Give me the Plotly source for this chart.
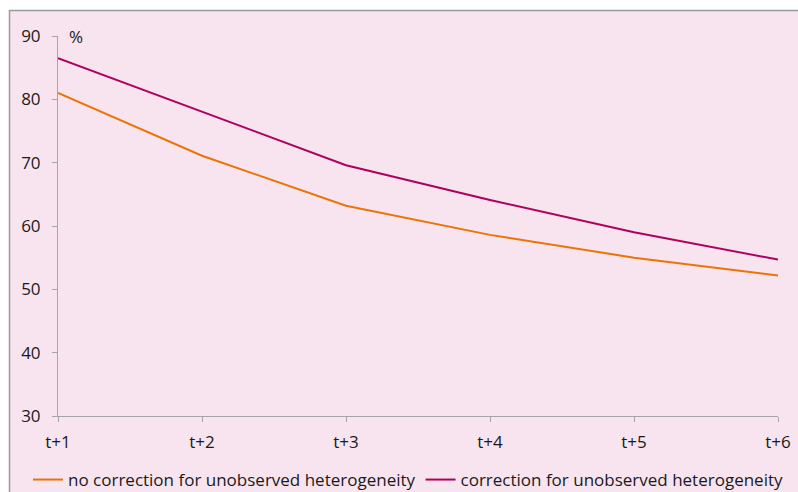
import plotly.graph_objects as go

categories = ["t+1", "t+2", "t+3", "t+4", "t+5", "t+6"]
no_correction = [81.0, 71.1, 63.2, 58.6, 55.0, 52.2]
with_correction = [86.5, 78.0, 69.6, 64.1, 59.0, 54.7]
y_ticks = [30, 40, 50, 60, 70, 80, 90]

W, H = 798, 492
L, R, T, B = 58, 20, 36, 76
pw, ph = W - L - R, H - T - B

def px_x(p):
    return (p - L) / pw

def px_y(p):
    return (H - B - p) / ph

fig = go.Figure()
fig.add_trace(go.Scatter(x=categories, y=no_correction, mode="lines",
                         name="no correction for unobserved heterogeneity",
                         line=dict(color="#ec7404", width=2)))
fig.add_trace(go.Scatter(x=categories, y=with_correction, mode="lines",
                         name="correction for unobserved heterogeneity",
                         line=dict(color="#b0005e", width=2)))

font = dict(family="Open Sans, DejaVu Sans, sans-serif", size=17, color="#1a1a1a")

fig.update_layout(
    width=W, height=H,
    margin=dict(l=L, r=R, t=T, b=B, autoexpand=False),
    paper_bgcolor="white",
    plot_bgcolor="rgba(0,0,0,0)",
    font=font,
    showlegend=True,
    legend=dict(orientation="h", x=px_x(28), xanchor="left", y=px_y(480), yanchor="middle",
                font=font, itemwidth=30, bgcolor="rgba(0,0,0,0)", tracegroupgap=0),
    xaxis=dict(type="category", range=[0, 5], showgrid=False, zeroline=False,
               showline=True, linecolor="#a6a6a6", linewidth=1,
               ticks="outside", ticklen=5, tickcolor="#a6a6a6", tickfont=font,
               ticklabelstandoff=6),
    yaxis=dict(range=[30, 90], tickvals=y_ticks, showgrid=False, zeroline=False,
               showline=True, linecolor="#a6a6a6", linewidth=1,
               ticks="outside", ticklen=5, tickcolor="#a6a6a6", tickfont=font,
               ticklabelstandoff=8),
    shapes=[dict(type="rect", xref="paper", yref="paper",
                 x0=px_x(9.5), x1=px_x(820), y0=px_y(520), y1=px_y(10.5),
                 fillcolor="#f7e4ef", line=dict(color="#9a9a9a", width=1.5), layer="below")],
    annotations=[dict(text="%", xref="paper", yref="paper", x=px_x(67), y=px_y(36),
                      xanchor="left", yanchor="middle", showarrow=False, font=font)],
)

fig.write_html("out.html")
